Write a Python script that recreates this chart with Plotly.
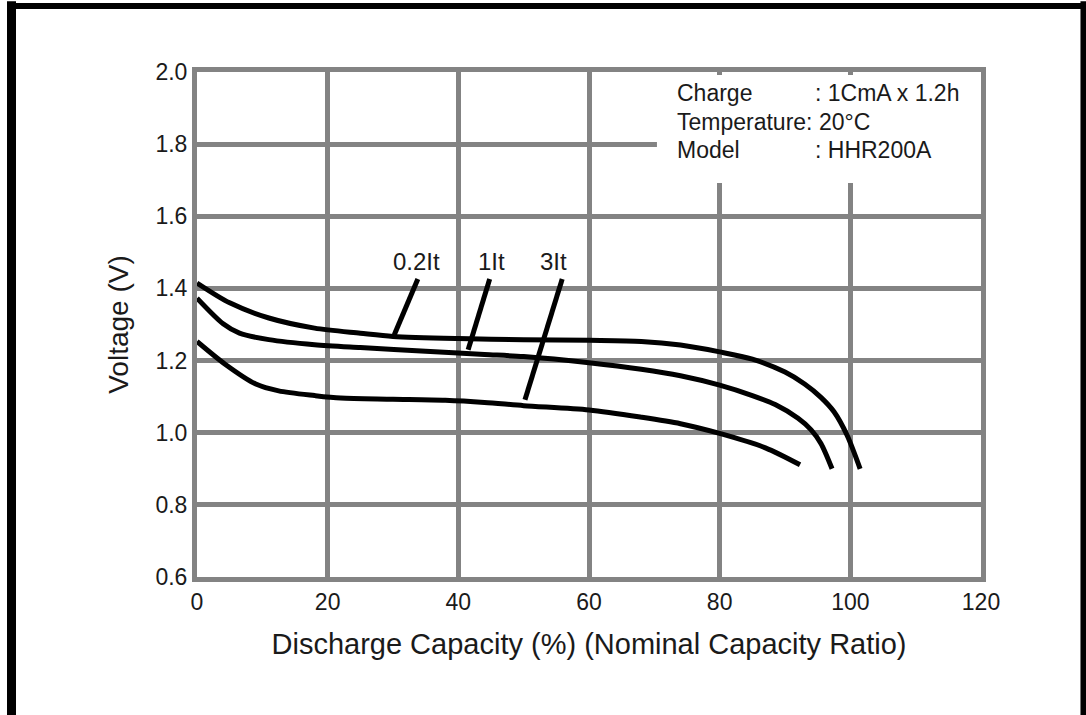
import plotly.graph_objects as go

# ---- data ----
x_02 = [0, 5, 11, 18, 25, 30, 40, 50, 60, 68, 74, 80, 85, 90, 93, 95.5, 97.5, 99.5, 101.5]
v_02 = [1.415, 1.36, 1.318, 1.29, 1.276, 1.267, 1.261, 1.258, 1.256, 1.253, 1.243, 1.224, 1.204, 1.168, 1.135, 1.098, 1.058, 0.993, 0.90]

x_1 = [0, 4, 6.5, 11, 18, 25, 35, 44, 50, 60, 68, 74, 80, 85, 88.5, 92, 94, 95.5, 97.2]
v_1 = [1.373, 1.302, 1.276, 1.258, 1.244, 1.236, 1.226, 1.217, 1.211, 1.194, 1.176, 1.158, 1.132, 1.103, 1.078, 1.04, 1.008, 0.97, 0.90]

x_3 = [0, 4.3, 9, 12.5, 18, 22, 30, 38, 44, 50, 60, 68, 74, 80, 87, 92.3]
v_3 = [1.253, 1.19, 1.135, 1.116, 1.103, 1.096, 1.093, 1.09, 1.084, 1.075, 1.063, 1.043, 1.025, 0.998, 0.958, 0.911]

series_names = ["0.2It", "1It", "3It"]
# leader lines (label -> curve)
leader_x = [[33.8, 30.2], [44.8, 41.5], [55.9, 50.2]]
leader_y = [[1.426, 1.2715], [1.426, 1.23], [1.426, 1.0914]]
label_x = [33.6, 45.05, 54.6]
label_y = 1.4745

x_ticks = [0, 20, 40, 60, 80, 100, 120]
y_ticks = [0.6, 0.8, 1.0, 1.2, 1.4, 1.6, 1.8, 2.0]
y_ticktext = ["0.6", "0.8", "1.0", "1.2", "1.4", "1.6", "1.8", "2.0"]

info_labels = ["Charge", "Temperature: 20\u00b0C", "Model"]
info_values = [": 1CmA x 1.2h", "", ": HHR200A"]
info_y = [1.9418, 1.8615, 1.784]

FONT = "Liberation Sans, Arial, Helvetica, sans-serif"
TXT = "#1a1a1a"
GRID = "#838383"

fig = go.Figure()
for xs, vs in [(x_02, v_02), (x_1, v_1), (x_3, v_3)]:
    fig.add_trace(go.Scatter(x=xs, y=vs, mode="lines",
                             line=dict(color="black", width=5, shape="spline", smoothing=0.8),
                             showlegend=False, hoverinfo="skip"))
for lx, ly in zip(leader_x, leader_y):
    fig.add_trace(go.Scatter(x=lx, y=ly, mode="lines",
                             line=dict(color="black", width=5),
                             showlegend=False, hoverinfo="skip"))

for name, lx in zip(series_names, label_x):
    fig.add_annotation(x=lx, y=label_y, text=name, showarrow=False,
                       font=dict(family=FONT, size=24, color=TXT),
                       xanchor="center", yanchor="middle")

# white box behind the info text (covers the grid)
fig.add_shape(type="rect", xref="x", yref="y", x0=70.4, x1=120, y0=1.6925, y1=1.9917,
              fillcolor="white", line=dict(width=0), layer="between")

for lab, val, yy in zip(info_labels, info_values, info_y):
    fig.add_annotation(x=73.1, y=yy, text=lab, showarrow=False, xanchor="left", yanchor="middle",
                       font=dict(family=FONT, size=23, color=TXT))
    if val:
        fig.add_annotation(x=94.3, y=yy, text=val, showarrow=False, xanchor="left", yanchor="middle",
                           font=dict(family=FONT, size=23, color=TXT))

# black frame (top, left, right)
fig.add_shape(type="line", xref="paper", yref="paper", x0=-0.2366, x1=1.14, y0=1.1306, y1=1.1306,
              line=dict(color="black", width=6))
fig.add_shape(type="line", xref="paper", yref="paper", x0=-0.2366, x1=-0.2366, y0=1.14, y1=-0.3,
              line=dict(color="black", width=9))
fig.add_shape(type="line", xref="paper", yref="paper", x0=1.1307, x1=1.1307, y0=1.14, y1=-0.3,
              line=dict(color="black", width=6))

fig.update_layout(
    width=1086, height=715,
    margin=dict(l=197, r=105, t=72, b=138),
    paper_bgcolor="white", plot_bgcolor="white",
    showlegend=False,
    font=dict(family=FONT, color=TXT),
)
fig.update_xaxes(range=[0, 120], tickvals=x_ticks, ticktext=[str(v) for v in x_ticks],
                 showgrid=True, gridcolor=GRID, gridwidth=5, zeroline=False,
                 showline=True, linecolor=GRID, linewidth=5, mirror=True,
                 ticks="", tickfont=dict(family=FONT, size=23, color=TXT),
                 title=dict(text="Discharge Capacity (%) (Nominal Capacity Ratio)",
                            font=dict(family=FONT, size=29, color=TXT), standoff=22))
fig.update_yaxes(range=[0.6, 2.0], tickvals=y_ticks, ticktext=y_ticktext,
                 showgrid=True, gridcolor=GRID, gridwidth=5, zeroline=False,
                 showline=True, linecolor=GRID, linewidth=5, mirror=True,
                 ticks="", tickfont=dict(family=FONT, size=23, color=TXT),
                 title=dict(text="Voltage (V)", font=dict(family=FONT, size=28, color=TXT), standoff=20))

fig.write_html("out.html")
